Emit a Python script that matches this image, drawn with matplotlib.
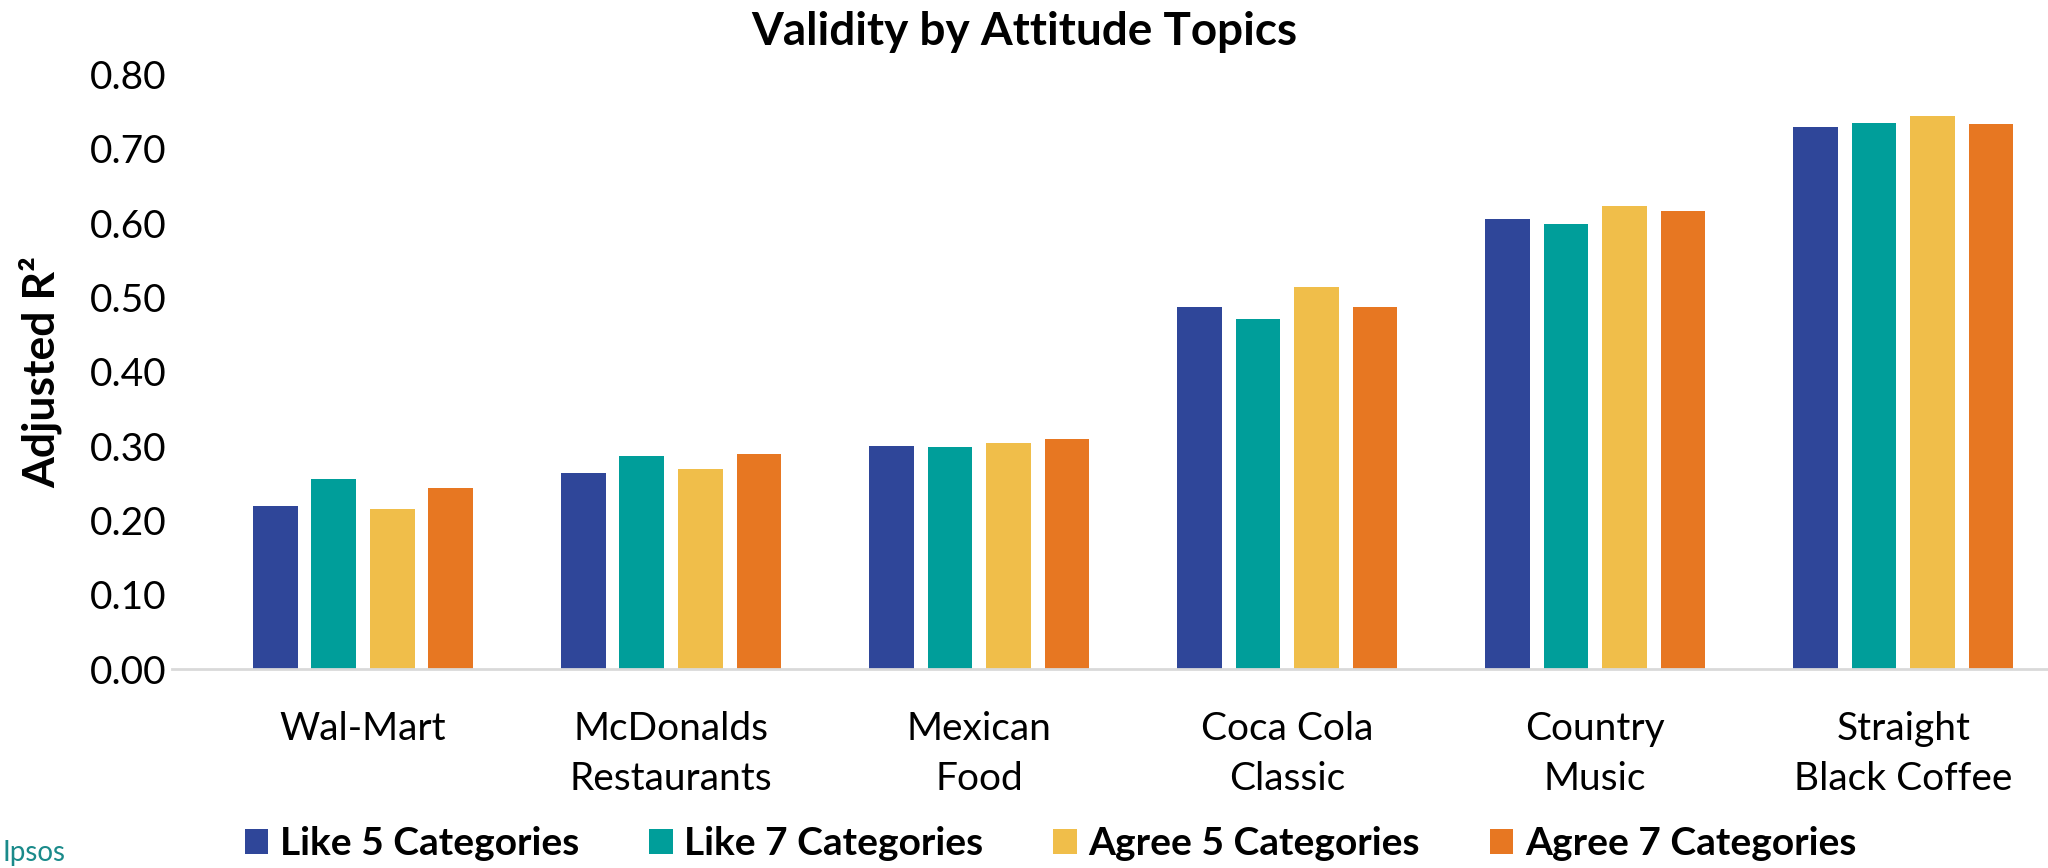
import numpy as np
import matplotlib
matplotlib.use("Agg")
import matplotlib.pyplot as plt

plt.rcParams["font.family"] = ["Lato", "DejaVu Sans"]

categories = ["Wal-Mart", "McDonalds\nRestaurants", "Mexican\nFood",
              "Coca Cola\nClassic", "Country\nMusic", "Straight\nBlack Coffee"]
series_names = ["Like 5 Categories", "Like 7 Categories",
                "Agree 5 Categories", "Agree 7 Categories"]
like5 = [0.219, 0.264, 0.301, 0.487, 0.606, 0.730]
like7 = [0.256, 0.287, 0.299, 0.471, 0.599, 0.735]
agree5 = [0.215, 0.270, 0.304, 0.514, 0.623, 0.744]
agree7 = [0.244, 0.289, 0.310, 0.488, 0.616, 0.733]
yticks = [0.0, 0.1, 0.2, 0.3, 0.4, 0.5, 0.6, 0.7, 0.8]

colors = ["#2F4699", "#009E9A", "#F0BE4A", "#E77722"]

fig = plt.figure(figsize=(20.48, 8.68), dpi=100)
ax = fig.add_axes([0.084, 0.229, 0.916, 0.685])

x = np.arange(len(categories))
step = 0.19
width = 0.145
for i, (vals, name) in enumerate(zip([like5, like7, agree5, agree7], series_names)):
    ax.bar(x + (i - 1.5) * step, vals, width, color=colors[i], label=name)

ax.set_xlim(-0.62, 5.47)
ax.set_ylim(0, 0.8)
ax.set_yticks(yticks)
ax.set_yticklabels([f"{v:.2f}" for v in yticks])
ax.set_xticks(x)
ax.set_xticklabels(categories, linespacing=1.5)
ax.tick_params(axis="both", length=0, labelsize=28)
ax.tick_params(axis="x", pad=30)
ax.tick_params(axis="y", pad=4)

for side in ["top", "right", "left"]:
    ax.spines[side].set_visible(False)
ax.spines["bottom"].set_color("#D9D9D9")
ax.spines["bottom"].set_linewidth(2)

ax.set_ylabel("Adjusted R²", fontsize=32, fontweight="bold", labelpad=20)
fig.suptitle("Validity by Attitude Topics", fontsize=33, fontweight="bold",
             x=0.5, y=0.987)

fig.legend(loc="center", bbox_to_anchor=(0.513, 0.028), ncol=4,
           frameon=False, prop={"size": 28, "weight": "bold"},
           handlelength=0.6, handleheight=0.6, columnspacing=1.8,
           handletextpad=0.3)

fig.text(0.001, 0.002, "Ipsos", color="#1A8A8A", fontsize=20,
         ha="left", va="bottom")

fig.savefig("out.png", dpi=100)
